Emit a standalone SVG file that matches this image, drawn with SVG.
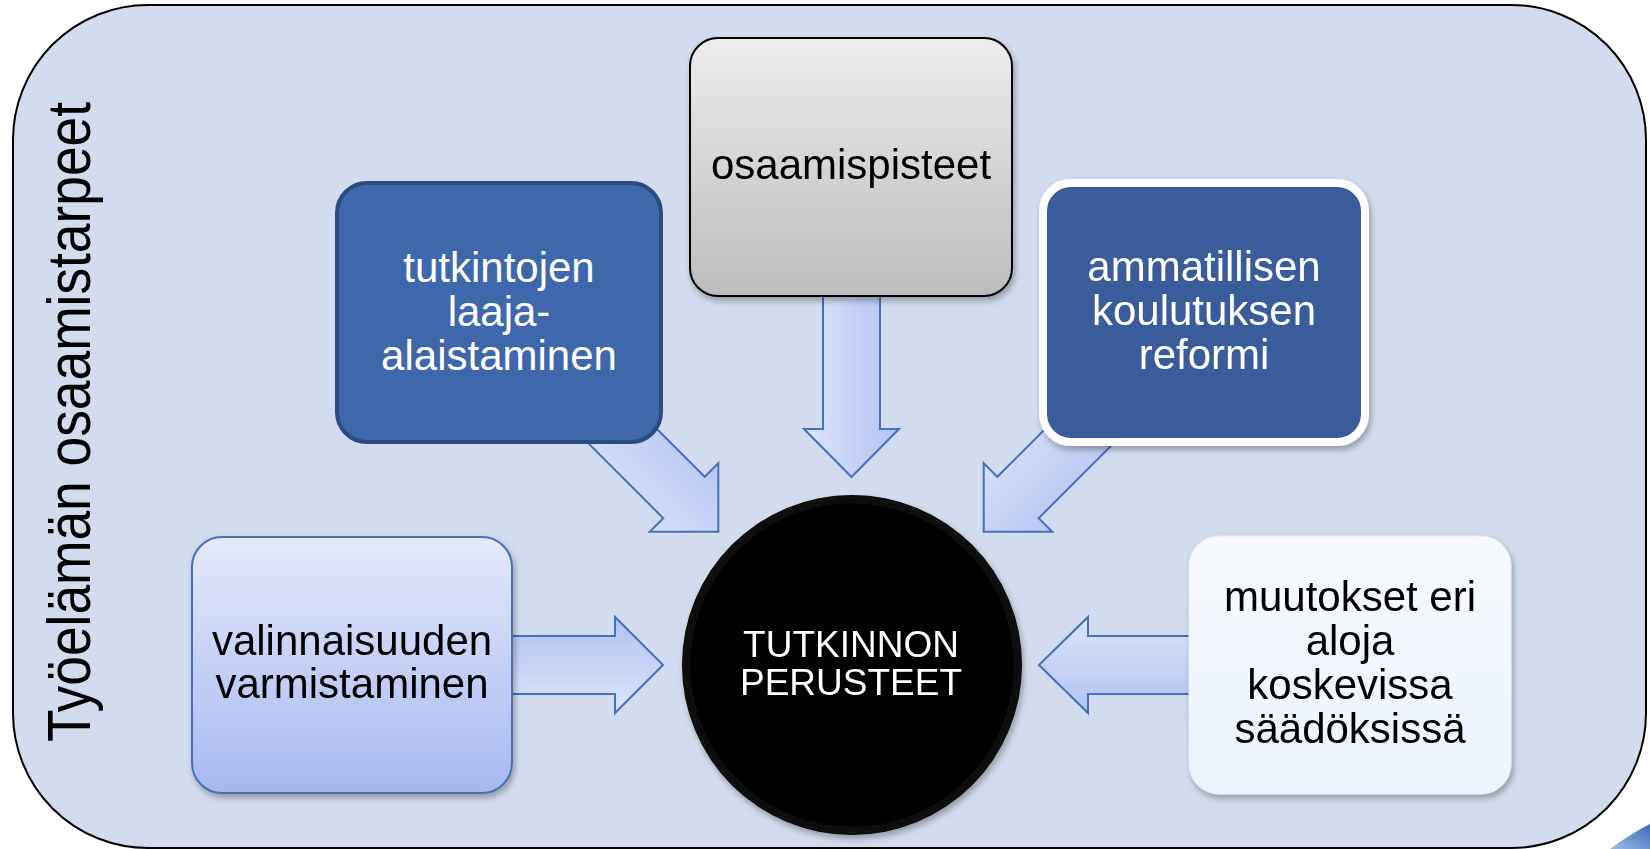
<svg xmlns="http://www.w3.org/2000/svg" width="1650" height="849" viewBox="0 0 1650 849">
  <defs>
    <linearGradient id="gGray" x1="0" y1="0" x2="0" y2="1">
      <stop offset="0" stop-color="#EDEDED"/>
      <stop offset="1" stop-color="#BCBCBC"/>
    </linearGradient>
    <linearGradient id="gLav" x1="0" y1="0" x2="0" y2="1">
      <stop offset="0" stop-color="#E4E9FB"/>
      <stop offset="1" stop-color="#A6B8F0"/>
    </linearGradient>
    <linearGradient id="gWhite" x1="0" y1="0" x2="0" y2="1">
      <stop offset="0" stop-color="#F8FAFE"/>
      <stop offset="1" stop-color="#EAF3FD"/>
    </linearGradient>
    <radialGradient id="gCirc" cx="0.5" cy="0.5" r="0.5">
      <stop offset="0" stop-color="#000000"/>
      <stop offset="0.94" stop-color="#030303"/>
      <stop offset="0.985" stop-color="#121212"/>
      <stop offset="1" stop-color="#050505"/>
    </radialGradient>
    <linearGradient id="aR" x1="0" y1="0" x2="0" y2="1">
      <stop offset="0" stop-color="#B2C2F1"/>
      <stop offset="1" stop-color="#DDE4FA"/>
    </linearGradient>
    <linearGradient id="aL" x1="0" y1="0" x2="0" y2="1">
      <stop offset="0" stop-color="#DDE4FA"/>
      <stop offset="1" stop-color="#B2C2F1"/>
    </linearGradient>
    <linearGradient id="aD" x1="0" y1="0" x2="1" y2="0">
      <stop offset="0" stop-color="#DDE4FA"/>
      <stop offset="1" stop-color="#B2C2F1"/>
    </linearGradient>
    <linearGradient id="aDR" x1="0" y1="1" x2="1" y2="0">
      <stop offset="0.2" stop-color="#DDE4FA"/>
      <stop offset="0.8" stop-color="#B2C2F1"/>
    </linearGradient>
    <linearGradient id="aDL" x1="0" y1="0" x2="1" y2="1">
      <stop offset="0.2" stop-color="#DDE4FA"/>
      <stop offset="0.8" stop-color="#B2C2F1"/>
    </linearGradient>
    <linearGradient id="gSwoosh" x1="0" y1="1" x2="1" y2="0">
      <stop offset="0" stop-color="#9DBBE6"/>
      <stop offset="1" stop-color="#3C6CB6"/>
    </linearGradient>
    <filter id="shadow" x="-10%" y="-10%" width="125%" height="125%">
      <feDropShadow dx="2" dy="4" stdDeviation="3" flood-color="#000" flood-opacity="0.3"/>
    </filter>
  </defs>
  <style>
    .frame { fill: #D3DCEE; stroke: #000; stroke-width: 2; }
    .arrow { stroke: #4470BD; stroke-width: 2; stroke-linejoin: miter; }
    .t { font-family: "Liberation Sans", Arial, sans-serif; font-size: 42px; text-anchor: middle; }
    .w { fill: #FFFFFF; }
    .k { fill: #000000; }
  </style>

  <path d="M1610,849 Q1630,834 1650,824 L1650,849 Z" fill="url(#gSwoosh)"/>

  <g id="frame">
    <rect class="frame" x="13" y="5" width="1633" height="843" rx="135" ry="135"/>
    <text class="k" transform="translate(90,422) rotate(-90)" x="0" y="0" font-family="'Liberation Sans', Arial, sans-serif" font-size="61" text-anchor="middle" textLength="640" lengthAdjust="spacingAndGlyphs">Työelämän osaamistarpeet</text>
  </g>

  <g id="connectors">
    <path class="arrow" fill="url(#aD)" d="M823,285 L880,285 L880,429 L899,429 L851.5,477 L804,429 L823,429 Z"/>
    <path class="arrow" fill="url(#aDR)" d="M598.6,370.7 L704.7,476.8 L718.3,463.2 L718.3,531.8 L649.7,531.8 L663.3,518.2 L557.2,412.1 Z"/>
    <path class="arrow" fill="url(#aDL)" d="M1103.4,370.7 L997.3,476.8 L983.7,463.2 L983.7,531.8 L1052.3,531.8 L1038.7,518.2 L1144.8,412.1 Z"/>
    <path class="arrow" fill="url(#aR)" d="M505,636 L615,636 L615,617 L663,665 L615,713 L615,694 L505,694 Z"/>
    <path class="arrow" fill="url(#aL)" d="M1197,636 L1088,636 L1088,617 L1039,665 L1088,713 L1088,694 L1197,694 Z"/>
  </g>

  <g id="node-osaamispisteet" filter="url(#shadow)">
    <rect x="690" y="38" width="322" height="258" rx="28" ry="28" fill="url(#gGray)" stroke="#000" stroke-width="2"/>
    <text class="t k" x="851" y="179">osaamispisteet</text>
  </g>

  <g id="node-tutkintojen">
    <rect x="337" y="183" width="324" height="259" rx="30" ry="30" fill="#3F67AC" stroke="#2C4A7E" stroke-width="4"/>
    <text class="t w" x="499" y="282">tutkintojen</text>
    <text class="t w" x="499" y="326">laaja-</text>
    <text class="t w" x="499" y="370">alaistaminen</text>
  </g>

  <g id="node-ammatillisen" filter="url(#shadow)">
    <rect x="1043" y="183" width="322" height="259" rx="28" ry="28" fill="#3A5C9B" stroke="#FFFFFF" stroke-width="8"/>
    <text class="t w" x="1204" y="281">ammatillisen</text>
    <text class="t w" x="1204" y="325">koulutuksen</text>
    <text class="t w" x="1204" y="369">reformi</text>
  </g>

  <g id="node-valinnaisuuden" filter="url(#shadow)">
    <rect x="192" y="537" width="320" height="256" rx="30" ry="30" fill="url(#gLav)" stroke="#4A6FB5" stroke-width="2"/>
    <text class="t k" x="352" y="655">valinnaisuuden</text>
    <text class="t k" x="352" y="698">varmistaminen</text>
  </g>

  <g id="node-muutokset" filter="url(#shadow)">
    <rect x="1189" y="536" width="322" height="258" rx="30" ry="30" fill="url(#gWhite)" stroke="#E6EDF8" stroke-width="1"/>
    <text class="t k" x="1350" y="611">muutokset eri</text>
    <text class="t k" x="1350" y="655">aloja</text>
    <text class="t k" x="1350" y="699">koskevissa</text>
    <text class="t k" x="1350" y="743">säädöksissä</text>
  </g>

  <g id="node-center" filter="url(#shadow)">
    <circle cx="852" cy="665" r="170" fill="url(#gCirc)"/>
    <text class="w" x="851" y="657" font-family="'Liberation Sans', Arial, sans-serif" font-size="37" text-anchor="middle">TUTKINNON</text>
    <text class="w" x="851" y="695" font-family="'Liberation Sans', Arial, sans-serif" font-size="37" text-anchor="middle">PERUSTEET</text>
  </g>
</svg>
